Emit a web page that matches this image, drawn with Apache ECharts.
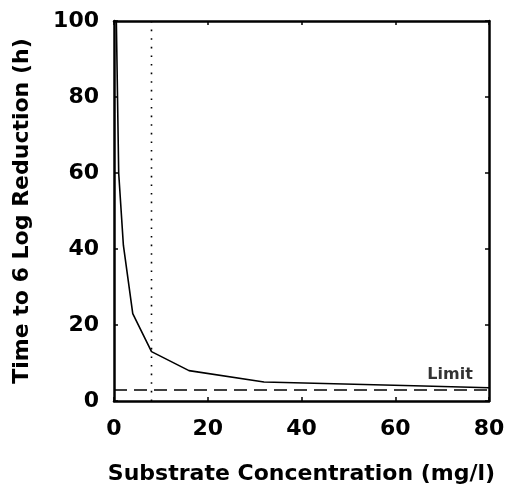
<!DOCTYPE html>
<html><head><meta charset="utf-8">
<script src="https://cdn.jsdelivr.net/npm/echarts@6/dist/echarts.min.js"></script>
<style>html,body{margin:0;padding:0;background:#fff}#c{width:505px;height:484px}</style>
</head><body><div id="c"></div>
<script>
var concentration = [0.5, 1, 2, 4, 8, 16, 32, 64, 80];
var timeTo6Log = [100, 60, 41, 23, 13, 8, 5, 4, 3.5];
var limitValue = 2.9;
var limitX = [0, 80];
var markerX = 8;
var markerY = [0, 100];
var xTicks = [0, 20, 40, 60, 80];
var yTicks = [0, 20, 40, 60, 80, 100];

var curve = concentration.map(function (x, i) { return [x, timeTo6Log[i]]; });
var limitLine = limitX.map(function (x) { return [x, limitValue]; });
var markerLine = markerY.map(function (y) { return [markerX, y]; });

var font = 'DejaVu Sans, sans-serif';
var chart = echarts.init(document.getElementById('c'));
var axisBase = {
  type: 'value', min: 0,
  axisLine: { show: true, onZero: false, lineStyle: { color: '#000', width: 2.5 } },
  axisTick: { show: true, inside: true, length: 4, lineStyle: { color: '#000', width: 1.5 } },
  splitLine: { show: false }
};
chart.setOption({
  animation: false,
  grid: { left: 114, right: 16, top: 21, bottom: 83, containLabel: false, outerBoundsMode: 'none' },
  xAxis: [
    Object.assign({}, axisBase, {
      max: 80, interval: 20, position: 'bottom',
      axisLabel: { color: '#000', fontFamily: font, fontWeight: 'bold', fontSize: 22, margin: 17,
        formatter: function (v) { return xTicks.indexOf(v) >= 0 ? String(v) : ''; } },
      name: 'Substrate Concentration (mg/l)', nameLocation: 'middle', nameGap: 62,
      nameTextStyle: { color: '#000', fontFamily: font, fontWeight: 'bold', fontSize: 22 }
    }),
    Object.assign({}, axisBase, { max: 80, interval: 20, position: 'top', axisLabel: { show: false } })
  ],
  yAxis: [
    Object.assign({}, axisBase, {
      max: 100, interval: 20, position: 'left',
      axisLabel: { color: '#000', fontFamily: font, fontWeight: 'bold', fontSize: 22, margin: 15,
        formatter: function (v) { return yTicks.indexOf(v) >= 0 ? String(v) : ''; } },
      name: 'Time to 6 Log Reduction (h)', nameLocation: 'middle', nameGap: 81,
      nameTextStyle: { color: '#000', fontFamily: font, fontWeight: 'bold', fontSize: 22 }
    }),
    Object.assign({}, axisBase, { max: 100, interval: 20, position: 'right', axisLabel: { show: false } })
  ],
  series: [
    { type: 'line', data: curve, symbol: 'none', lineStyle: { color: '#000', width: 1.6 }, z: 3 },
    { type: 'line', data: limitLine, symbol: 'none', lineStyle: { color: '#000', width: 1.6, type: [13, 7] } },
    { type: 'line', data: markerLine, symbol: 'none', lineStyle: { color: '#000', width: 1.6, type: [1.6, 7] } },
    { type: 'scatter', data: [[71.7, 6.8]], symbolSize: 0, silent: true,
      label: { show: true, position: 'inside', formatter: 'Limit', color: '#000',
        fontFamily: font, fontWeight: 'bold', fontSize: 16 } }
  ]
});
</script></body></html>
